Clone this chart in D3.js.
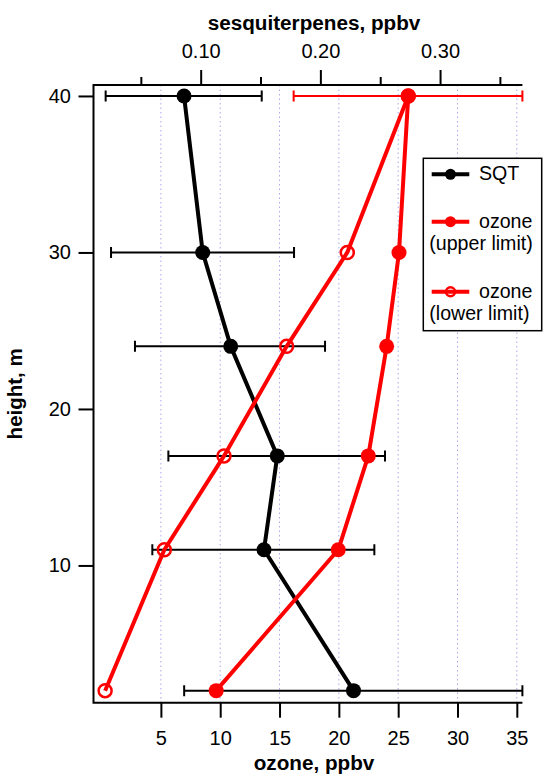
<!DOCTYPE html>
<html>
<head>
<meta charset="utf-8">
<script src="https://cdn.jsdelivr.net/npm/d3@7"></script>
<style>
  html, body { margin: 0; padding: 0; background: #fff; }
  svg { display: block; font-family: "Liberation Sans", Arial, sans-serif; }
</style>
</head>
<body>
<svg id="chart" width="545" height="776"></svg>
<script>
// ---- data ----
const heights      = [40, 30, 24, 17, 11, 2];          // m
const sqt          = [0.0861, 0.1017, 0.1251, 0.164, 0.1529, 0.2277]; // ppbv
const sqtLow       = [0.0206, 0.0251, 0.0451, 0.073, 0.0596, 0.0862];
const sqtHigh      = [0.151, 0.178, 0.2039, 0.254, 0.2451, 0.3688];
const ozoneUpper   = [25.85, 25.07, 24.03, 22.48, 19.95, 9.66];     // ppbv
const ozoneLower   = [25.85, 20.71, 15.6, 10.32, 5.29, 0.3];        // ppbv
const ozoneErrH    = [40];
const ozoneErrLow  = [16.19];
const ozoneErrHigh = [35.47];
const ozoneTicks   = [5, 10, 15, 20, 25, 30, 35];
const sqtMajorTicks = [0.10, 0.20, 0.30];
const sqtMinorTicks = [0.05, 0.15, 0.25, 0.35];
const heightTicks  = [10, 20, 30, 40];
const legendLabels = [["SQT"], ["ozone", "(upper limit)"], ["ozone", "(lower limit)"]];

// ---- layout ----
const L = 93.5, R = 522.4, T = 85, B = 702.7;
const svg = d3.select("#chart");

const xO = d3.scaleLinear().domain([-0.68, 35.47]).range([L, R]);
const xS = d3.scaleLinear().domain([0.01045, 0.3688]).range([L, R]);
const y  = d3.scaleLinear().domain([1.23, 40.70]).range([B, T]);

const RED = "#ff0000";

// grid lines
svg.append("g").selectAll("line").data(ozoneTicks).join("line")
  .attr("x1", d => xO(d)).attr("x2", d => xO(d))
  .attr("y1", T).attr("y2", B)
  .attr("stroke", "#a9a9ee").attr("stroke-width", 1)
  .attr("stroke-dasharray", "1.5,3");

// axes
function styleAxis(g, fs) {
  g.select(".domain").remove();
  g.selectAll(".tick line").attr("stroke", "#000").attr("stroke-width", 2);
  g.selectAll(".tick text").attr("fill", "#000").style("font-size", fs + "px")
    .style("font-family", '"Liberation Sans", Arial, sans-serif');
}
const gB = svg.append("g").attr("transform", `translate(0,${B})`)
  .call(d3.axisBottom(xO).tickValues(ozoneTicks).tickFormat(d3.format("d")).tickSize(15).tickPadding(13));
styleAxis(gB, 20);
const gT = svg.append("g").attr("transform", `translate(0,${T})`)
  .call(d3.axisTop(xS).tickValues(sqtMajorTicks).tickFormat(d3.format(".2f")).tickSize(15).tickPadding(12));
styleAxis(gT, 20);
const gTm = svg.append("g").attr("transform", `translate(0,${T})`)
  .call(d3.axisTop(xS).tickValues(sqtMinorTicks).tickFormat("").tickSize(8));
styleAxis(gTm, 20);
const gL = svg.append("g").attr("transform", `translate(${L},0)`)
  .call(d3.axisLeft(y).tickValues(heightTicks).tickFormat(d3.format("d")).tickSize(15).tickPadding(7.5));
styleAxis(gL, 20);

// axis lines (frame: left, top, bottom)
svg.append("path")
  .attr("d", `M${R},${T}H${L}V${B}H${R}`)
  .attr("fill", "none").attr("stroke", "#000").attr("stroke-width", 2);

// titles
svg.append("text").attr("x", 314).attr("y", 29.5).attr("text-anchor", "middle")
  .style("font-size", "20.7px").style("font-weight", "bold").text("sesquiterpenes, ppbv");
svg.append("text").attr("x", 314).attr("y", 770).attr("text-anchor", "middle")
  .style("font-size", "20.7px").style("font-weight", "bold").text("ozone, ppbv");
svg.append("text").attr("transform", `translate(22,${(T + B) / 2}) rotate(-90)`).attr("text-anchor", "middle")
  .style("font-size", "20.5px").style("font-weight", "bold").text("height, m");

// error bars
const CAP = 5.5;
const eb = svg.append("g");
heights.forEach((h, i) => {
  const yy = y(h), x1 = xS(sqtLow[i]), x2 = xS(sqtHigh[i]);
  eb.append("path").attr("d", `M${x1},${yy - CAP}V${yy + CAP}M${x1},${yy}H${x2}M${x2},${yy - CAP}V${yy + CAP}`)
    .attr("stroke", "#000").attr("stroke-width", 2).attr("fill", "none");
});
ozoneErrH.forEach((h, i) => {
  const yy = y(h), x1 = xO(ozoneErrLow[i]), x2 = xO(ozoneErrHigh[i]);
  eb.append("path").attr("d", `M${x1},${yy - CAP}V${yy + CAP}M${x1},${yy}H${x2}M${x2},${yy - CAP}V${yy + CAP}`)
    .attr("stroke", RED).attr("stroke-width", 2).attr("fill", "none");
});

// lines
const idx = d3.range(heights.length);
svg.append("path").datum(idx)
  .attr("d", d3.line().x(i => xS(sqt[i])).y(i => y(heights[i])))
  .attr("fill", "none").attr("stroke", "#000").attr("stroke-width", 4).attr("stroke-linejoin", "round");
svg.append("g").selectAll("circle").data(idx).join("circle")
  .attr("cx", i => xS(sqt[i])).attr("cy", i => y(heights[i])).attr("r", 7.5).attr("fill", "#000");

svg.append("path").datum(idx)
  .attr("d", d3.line().x(i => xO(ozoneLower[i])).y(i => y(heights[i])))
  .attr("fill", "none").attr("stroke", RED).attr("stroke-width", 4).attr("stroke-linejoin", "round");
svg.append("path").datum(idx)
  .attr("d", d3.line().x(i => xO(ozoneUpper[i])).y(i => y(heights[i])))
  .attr("fill", "none").attr("stroke", RED).attr("stroke-width", 4).attr("stroke-linejoin", "round");
svg.append("g").selectAll("circle").data(idx).join("circle")
  .attr("cx", i => xO(ozoneLower[i])).attr("cy", i => y(heights[i])).attr("r", 6.5)
  .attr("fill", "none").attr("stroke", RED).attr("stroke-width", 2.5);
svg.append("g").selectAll("circle").data(idx).join("circle")
  .attr("cx", i => xO(ozoneUpper[i])).attr("cy", i => y(heights[i])).attr("r", 7.5).attr("fill", RED);

// legend
const lg = svg.append("g");
lg.append("rect").attr("x", 423.3).attr("y", 158.3).attr("width", 118.4).attr("height", 172.4)
  .attr("fill", "#fff").attr("stroke", "#000").attr("stroke-width", 1.5);
const legY = [174.3, 221.7, 291.7];
const legColor = ["#000", RED, RED];
const legOpen = [false, false, true];
legendLabels.forEach((lab, k) => {
  const yy = legY[k];
  lg.append("line").attr("x1", 431.7).attr("x2", 469.3).attr("y1", yy).attr("y2", yy)
    .attr("stroke", legColor[k]).attr("stroke-width", 4);
  lg.append("circle").attr("cx", 450.5).attr("cy", yy).attr("r", legOpen[k] ? 4.5 : 5.5)
    .attr("fill", legOpen[k] ? "none" : legColor[k])
    .attr("stroke", legColor[k]).attr("stroke-width", legOpen[k] ? 2.5 : 0);
  lg.append("text").attr("x", 479).attr("y", yy + 6).style("font-size", "19.6px").text(lab[0]);
  if (lab[1]) lg.append("text").attr("x", 429.3).attr("y", yy + 28.2).style("font-size", "19.6px").text(lab[1]);
});
</script>
</body>
</html>
